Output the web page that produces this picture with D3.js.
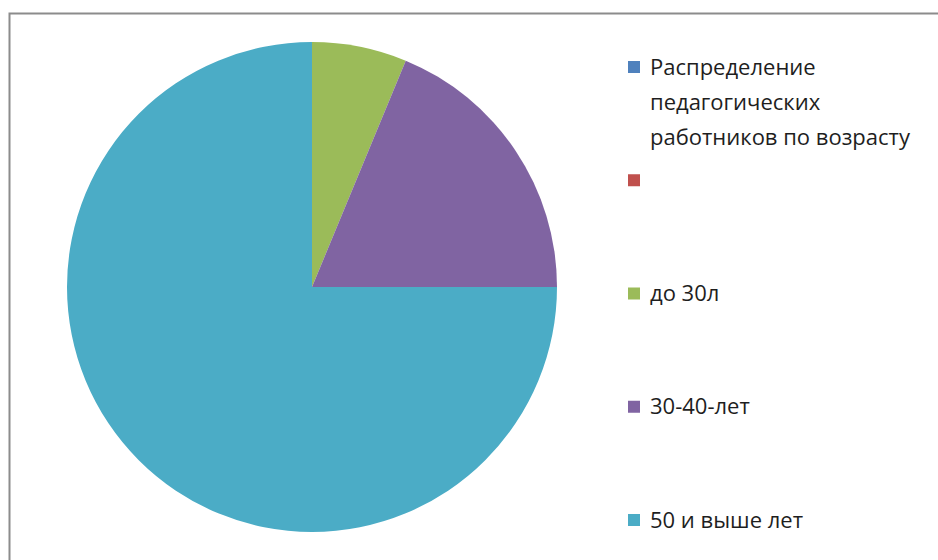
<!DOCTYPE html>
<html><head><meta charset="utf-8">
<script src="https://cdn.jsdelivr.net/npm/d3@7"></script>
<style>html,body{margin:0;padding:0;background:#fff;overflow:hidden}</style>
</head><body>
<svg id="c" width="938" height="560"></svg>
<script>
const categories = ["Распределение педагогических работников по возрасту", "", "до 30л", "30-40-лет", "50 и выше лет"];
const values = [0, 0, 1, 3, 12];
const colors = ["#4F81BD", "#C0504D", "#9BBB59", "#8064A2", "#4BACC6"];

const svg = d3.select("#c");
svg.append("rect").attr("x", 9.5).attr("y", 13.5).attr("width", 940).attr("height", 560)
  .attr("fill", "#fff").attr("stroke", "#8c8c8c").attr("stroke-width", 2);

const cx = 312, cy = 287, r = 245;
const data = categories.map((c, i) => ({cat: c, value: values[i], color: colors[i]}));
const pie = d3.pie().sort(null).value(d => d.value);
const arc = d3.arc().innerRadius(0).outerRadius(r);
svg.append("g").attr("transform", `translate(${cx},${cy})`)
  .selectAll("path").data(pie(data).filter(d => d.data.value > 0)).join("path")
  .attr("d", arc).attr("fill", d => d.data.color);

const legendY = d3.scalePoint().domain(d3.range(categories.length)).range([67, 520]);
const lg = svg.append("g").attr("font-family", "'Open Sans', sans-serif").attr("font-size", 22).attr("fill", "#1e1e1e");
const wrap = {0: ["Распределение", "педагогических", "работников по возрасту"]};
data.forEach((d, i) => {
  const y = legendY(i);
  lg.append("rect").attr("x", 628).attr("y", y - 6).attr("width", 12).attr("height", 12).attr("fill", d.color);
  const lines = wrap[i] || [d.cat];
  const t = lg.append("text").attr("x", 650).attr("y", y);
  lines.forEach((ln, j) => t.append("tspan").attr("x", 650).attr("y", y + j * 35).attr("dy", "0.35em").text(ln));
});
</script>
</body></html>
